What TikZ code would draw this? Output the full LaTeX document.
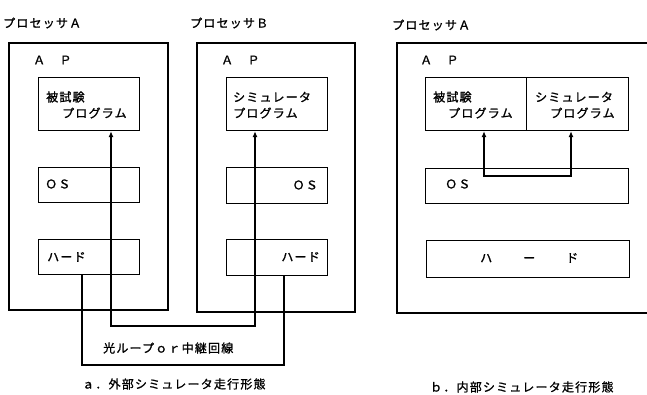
\documentclass[tikz,border=0pt]{standalone}
\usepackage{fontspec}
\newfontfamily\jp{Noto Sans CJK JP}[LetterSpace=10,FakeBold=1.2]
\usetikzlibrary{arrows.meta}
\begin{document}
\begin{tikzpicture}[x=1pt,y=-1pt,
  outerbox/.style={draw,line width=1.6pt,anchor=north west,inner sep=0pt},
  innerbox/.style={draw,line width=1.2pt,anchor=north west,inner sep=0pt},
  txt/.style={inner sep=0pt,anchor=west,font=\jp\fontsize{12}{14}\selectfont},
  txtr/.style={txt,anchor=east},
  link/.style={line width=1.1pt},
  biarrow/.style={{Latex[length=6pt,width=5pt]}-{Latex[length=6pt,width=5pt]}}]
\useasboundingbox (0,0) rectangle (647,395);
% outer processor boxes
\node[outerbox,minimum width=159pt,minimum height=267pt] (pa) at (8,42) {};
\node[outerbox,minimum width=158pt,minimum height=269pt] (pb) at (196,42) {};
\node[outerbox,minimum width=270pt,minimum height=270pt] (pc) at (396,42) {};
% inner boxes
\node[innerbox,minimum width=101pt,minimum height=53pt] (aprog) at (38,77) {};
\node[innerbox,minimum width=101pt,minimum height=35pt] (aos) at (38,167) {};
\node[innerbox,minimum width=101pt,minimum height=35pt] (ahard) at (38,239) {};
\node[innerbox,minimum width=101pt,minimum height=53pt] (bprog) at (226,77) {};
\node[innerbox,minimum width=101pt,minimum height=36pt] (bos) at (226,167) {};
\node[innerbox,minimum width=101pt,minimum height=36pt] (bhard) at (226,239) {};
\node[innerbox,minimum width=101pt,minimum height=53pt] (cprogl) at (425,77) {};
\node[innerbox,minimum width=102pt,minimum height=53pt] (cprogr) at (526,77) {};
\node[innerbox,minimum width=203pt,minimum height=35pt] (cos) at (425,168) {};
\node[innerbox,minimum width=203pt,minimum height=37pt] (chard) at (426,240) {};
% headings
\node[txt] (headA) at (3,23) {プロセッサＡ};
\node[txt] (headB) at (190,23) {プロセッサＢ};
\node[txt] (headC) at (392,25) {プロセッサＡ};
\node[txt] (apA) at (33,60) {Ａ　Ｐ};
\node[txt] (apB) at (221,60) {Ａ　Ｐ};
\node[txt] (apC) at (420,60) {Ａ　Ｐ};
% box texts
\node[txt] (aprogT1) at (46,97) {被試験};
\node[txt] (aprogT2) at (62,113) {プログラム};
\node[txt] (bprogT1) at (233,97) {シミュレータ};
\node[txt] (bprogT2) at (233,113) {プログラム};
\node[txt] (cprogT1) at (433,97) {被試験};
\node[txt] (cprogT2) at (448,113) {プログラム};
\node[txt] (cprogT3) at (535,97) {シミュレータ};
\node[txt] (cprogT4) at (550,113) {プログラム};
\node[txt] (aosT) at (45,184) {ＯＳ};
\node[txtr] (bosT) at (318,185) {ＯＳ};
\node[txt] (cosT) at (445,184) {ＯＳ};
\node[txt] (ahardT) at (47,257) {ハード};
\node[txtr] (bhardT) at (320,257) {ハード};
\node[txt] (chardT) at (480,258) {ハ\hspace{31pt}ー\hspace{31pt}ド};
\node[txt] (loopT) at (103,348) {光ループｏｒ中継回線};
\node[txt] (capA) at (82,384) {ａ．外部シミュレータ走行形態};
\node[txt] (capB) at (430,387) {ｂ．内部シミュレータ走行形態};
% connectors
\coordinate (i1) at (111,326);
\coordinate (i2) at (255,326);
\draw[link,biarrow] (aprog.south -| i1) -- (i1) -- (i2) -- (bprog.south -| i2);
\coordinate (o1) at (82,365);
\coordinate (o2) at (284,365);
\draw[link] (ahard.south -| o1) -- (o1) -- (o2) -- (bhard.south -| o2);
\coordinate (c1) at (484,176);
\coordinate (c2) at (571,176);
\draw[link,biarrow] (cprogl.south -| c1) -- (c1) -- (c2) -- (cprogr.south -| c2);
\end{tikzpicture}
\end{document}
